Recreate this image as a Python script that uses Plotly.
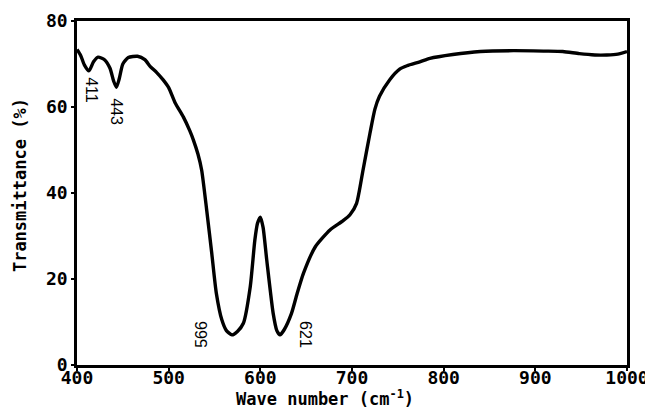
import plotly.graph_objects as go

wavenumber = [400, 404, 408, 413, 418, 423, 430, 436, 440, 443, 446, 450, 456, 466, 474, 480,
              487, 494, 500, 507, 516, 523, 527, 532, 536, 541.5, 547, 552, 558, 563, 569, 575,
              581.5, 589, 594, 597, 600, 603, 607, 614, 618, 621.5, 626, 634, 640, 647, 660, 676,
              690, 698, 705, 712, 719.6, 725, 730, 741, 752, 760, 774, 785, 810, 840, 876, 910,
              930, 948, 965, 978, 990, 1000]
transmittance = [73.4, 72.0, 69.8, 68.4, 70.5, 71.6, 71.0, 69.0, 66.0, 64.6, 66.5, 70.0, 71.5, 71.8, 71.0, 69.4,
                 68.0, 66.3, 64.5, 61.0, 57.7, 54.5, 52.3, 49.0, 45.3, 36.0, 26.0, 16.7, 10.5, 8.0, 7.0, 7.8,
                 9.7, 18.2, 29.0, 33.0, 34.4, 32.0, 24.4, 12.0, 8.0, 7.0, 8.2, 12.0, 16.5, 21.3, 27.5, 31.4,
                 33.5, 35.0, 37.6, 45.3, 53.9, 59.5, 62.5, 66.3, 68.8, 69.6, 70.5, 71.3, 72.2, 72.9, 73.1, 73.0,
                 72.9, 72.4, 72.1, 72.1, 72.3, 72.9]

peak_labels = ["411", "443", "566", "621"]
peak_label_x = [416, 443.6, 535, 648.5]
peak_label_y = [64.0, 58.8, 7.2, 7.0]
peak_label_angle = [90, 90, -90, 90]

x_ticks = [400, 500, 600, 700, 800, 900, 1000]
y_ticks = [0, 20, 40, 60, 80]
x_title = "Wave number (cm<sup>-1</sup>)"
y_title = "Transmittance (%)"

fig = go.Figure()
fig.add_trace(go.Scatter(
    x=wavenumber, y=transmittance, mode="lines",
    line=dict(color="black", width=3.4, shape="spline", smoothing=0.6),
    showlegend=False, hoverinfo="skip",
))

for lab, lx, ly, ang in zip(peak_labels, peak_label_x, peak_label_y, peak_label_angle):
    fig.add_annotation(x=lx, y=ly, text=lab, textangle=ang, showarrow=False,
                       font=dict(family="Liberation Sans", size=16, color="black"))

mono = "DejaVu Sans Mono"
title_font = dict(family=mono, size=17, color="black", weight="bold")
fig.add_annotation(xref="paper", yref="paper", x=0.451, y=0, xanchor="center", yanchor="middle",
                   yshift=-33, text=x_title, showarrow=False, font=title_font)
fig.add_annotation(xref="paper", yref="paper", x=0, y=0.523, xanchor="center", yanchor="middle",
                   xshift=-57, textangle=-90, text=y_title, showarrow=False, font=title_font)

# page body has an 8px default margin; figure is sized to sit inside the window
fig.update_layout(
    width=645, height=402,
    margin=dict(l=69, r=26, t=13, b=45),
    paper_bgcolor="white", plot_bgcolor="white",
    font=dict(family=mono, color="black"),
    xaxis=dict(
        range=[400, 1000], tickvals=x_ticks, ticktext=[str(v) for v in x_ticks],
        automargin=False, ticklabelstandoff=-8,
        showgrid=False, zeroline=False, showline=True, linecolor="black", linewidth=2.5,
        mirror=True, ticks="outside", ticklen=3, tickwidth=2, tickcolor="black",
        tickfont=dict(family=mono, size=18, color="black", weight="bold"),
    ),
    yaxis=dict(
        range=[0, 80], tickvals=y_ticks, ticktext=[str(v) for v in y_ticks],
        automargin=False,
        showgrid=False, zeroline=False, showline=True, linecolor="black", linewidth=2.5,
        mirror=True, ticks="outside", ticklen=3, tickwidth=2, tickcolor="black",
        tickfont=dict(family=mono, size=18, color="black", weight="bold"),
    ),
)

fig.write_html("out.html")
